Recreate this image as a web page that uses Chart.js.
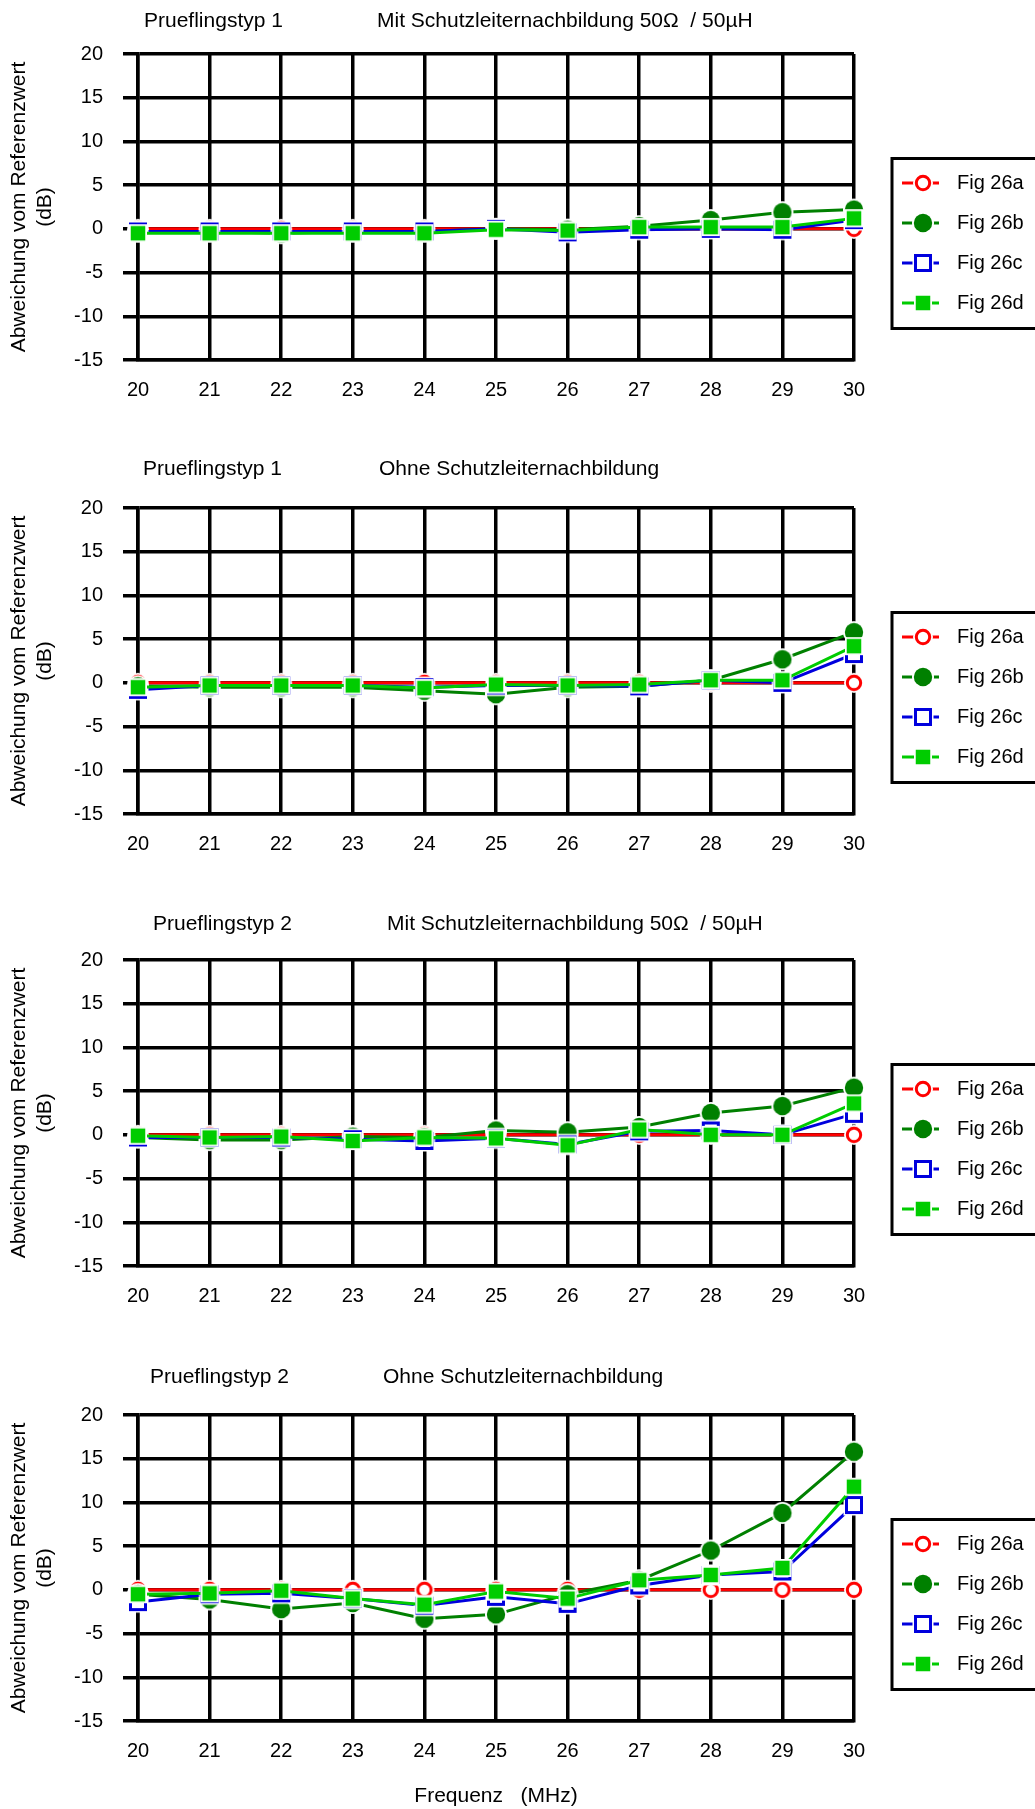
<!DOCTYPE html>
<html>
<head>
<meta charset="utf-8">
<script src="https://cdn.jsdelivr.net/npm/chart.js@4/dist/chart.umd.min.js"></script>
<style>
body { margin: 0; background: #fff; }
#page { position: relative; width: 1035px; height: 1809px; overflow: hidden; background: #fff; }
#page canvas { position: absolute; left: 0; }
</style>
</head>
<body>
<div id="page">
  <canvas id="c1" width="1035" height="454" style="top:0px"></canvas>
  <canvas id="c2" width="1035" height="454" style="top:454px"></canvas>
  <canvas id="c3" width="1035" height="454" style="top:906px"></canvas>
  <canvas id="c4" width="1035" height="448" style="top:1361px"></canvas>
</div>
<script>
// frequencies (MHz) and y ticks (dB)
var freq = ['20', '21', '22', '23', '24', '25', '26', '27', '28', '29', '30'];
var yTicks = [-15, -10, -5, 0, 5, 10, 15, 20];
var names = ['Fig 26a', 'Fig 26b', 'Fig 26c', 'Fig 26d'];

// Prueflingstyp 1, mit Schutzleiternachbildung
var p1a = [0, 0, 0, 0, 0, 0, 0, 0, 0, 0, 0];
var p1b = [-0.3, -0.3, -0.5, -0.3, -0.3, 0, -0.1, 0.3, 1.0, 1.9, 2.2];
var p1c = [-0.3, -0.3, -0.3, -0.3, -0.3, 0, -0.4, -0.1, 0, -0.1, 1.0];
var p1d = [-0.5, -0.5, -0.5, -0.5, -0.5, -0.1, -0.2, 0.2, 0.2, 0.2, 1.2];

// Prueflingstyp 1, ohne Schutzleiternachbildung
var p2a = [0, 0, 0, 0, 0, 0, 0, 0, 0, 0, 0];
var p2b = [-0.4, -0.5, -0.5, -0.5, -0.9, -1.3, -0.5, -0.4, 0.3, 2.7, 5.8];
var p2c = [-0.8, -0.3, -0.3, -0.3, -0.5, -0.3, -0.3, -0.4, 0.3, 0, 3.3];
var p2d = [-0.5, -0.3, -0.3, -0.3, -0.6, -0.2, -0.3, -0.2, 0.3, 0.3, 4.2];

// Prueflingstyp 2, mit Schutzleiternachbildung
var p3a = [0, 0, 0, 0, 0, 0, 0, 0, 0, 0, 0];
var p3b = [-0.3, -0.6, -0.6, -0.2, -0.3, 0.5, 0.3, 0.9, 2.5, 3.3, 5.4];
var p3c = [-0.3, -0.3, -0.3, -0.5, -0.7, -0.4, -1.1, 0.4, 0.5, 0, 2.4];
var p3d = [-0.1, -0.3, -0.2, -0.7, -0.3, -0.4, -1.2, 0.6, 0, 0, 3.6];

// Prueflingstyp 2, ohne Schutzleiternachbildung
var p4a = [0, 0, 0, 0, 0, 0, 0, 0, 0, 0, 0];
var p4b = [-0.5, -1.1, -2.2, -1.5, -3.3, -2.8, -0.5, 1.1, 4.5, 8.8, 15.8];
var p4c = [-1.4, -0.5, -0.4, -1.0, -1.8, -0.8, -1.6, 0.5, 1.7, 2.1, 9.7];
var p4d = [-0.5, -0.4, -0.1, -1.0, -1.7, -0.2, -1.0, 1.1, 1.7, 2.5, 11.8];

var colors = ['#ff0000', '#008000', '#0000dd', '#00cc00'];
var fontFamily = '"Liberation Sans", Arial, sans-serif';

Chart.defaults.font.family = fontFamily;
Chart.defaults.color = '#000';

// marker pictures with a white halo round them
var marker = function(kind) {
  var c = document.createElement('canvas');
  c.width = 26;
  c.height = 26;
  var g = c.getContext('2d');
  g.translate(13, 13);
  g.fillStyle = '#fff';
  if (kind === 0) {
    g.beginPath(); g.arc(0, 0, 10, 0, 2 * Math.PI); g.fill();
    g.beginPath(); g.arc(0, 0, 6.7, 0, 2 * Math.PI); g.fill();
    g.lineWidth = 3; g.strokeStyle = colors[0]; g.stroke();
  } else if (kind === 1) {
    g.beginPath(); g.arc(0, 0, 11, 0, 2 * Math.PI); g.fill();
    g.beginPath(); g.arc(0, 0, 9.2, 0, 2 * Math.PI);
    g.fillStyle = colors[1]; g.fill();
  } else if (kind === 2) {
    g.fillRect(-10.5, -10.5, 21, 21);
    g.lineWidth = 3; g.strokeStyle = colors[2];
    g.strokeRect(-7.5, -7.5, 15, 15);
  } else {
    g.fillRect(-9, -9, 18, 18);
    g.fillStyle = colors[3];
    g.fillRect(-7.25, -7.25, 14.5, 14.5);
  }
  return c;
};
var markers = [marker(0), marker(1), marker(2), marker(3)];

var decoPlugin = {
  id: 'deco',
  afterDraw: function(chart, args, opts) {
    var ctx = chart.ctx;
    var area = chart.chartArea;
    ctx.save();
    ctx.fillStyle = '#000';
    ctx.textBaseline = 'middle';
    ctx.textAlign = 'left';
    ctx.font = '21px ' + fontFamily;
    ctx.fillText(opts.left, opts.leftX, area.top + opts.dy);
    ctx.fillText(opts.right, opts.rightX, area.top + opts.dy);

    // legend box, cut by the right edge like in the picture
    var top = area.top + 104.5;
    ctx.lineWidth = 3;
    ctx.strokeStyle = '#000';
    ctx.strokeRect(892, top, 170, 170);
    ctx.font = '20px ' + fontFamily;
    var sets = chart.data.datasets;
    for (var i = 0; i < sets.length; i++) {
      var y = top + 24.5 + i * 40;
      ctx.beginPath();
      ctx.moveTo(902, y);
      ctx.lineTo(939, y);
      ctx.strokeStyle = sets[i].borderColor;
      ctx.lineWidth = 3;
      ctx.stroke();
      var m = sets[i].pointStyle;
      ctx.drawImage(m, 923 - m.width / 2, y - m.height / 2);
      ctx.fillStyle = '#000';
      ctx.fillText(sets[i].label, 957, y);
    }
    ctx.restore();
  }
};

var create = function(id, series, deco, xTitle) {
  var canvas = document.getElementById(id);
  var h = canvas.height;
  var datasets = [];
  for (var i = 0; i < series.length; i++) {
    datasets.push({
      label: names[i],
      data: series[i],
      borderColor: colors[i],
      backgroundColor: colors[i],
      borderWidth: 3,
      pointStyle: markers[i],
      pointRadius: 9,
      tension: 0,
      fill: false,
      clip: false,
      order: series.length - i
    });
  }
  return new Chart(canvas, {
    type: 'line',
    data: { labels: freq, datasets: datasets },
    plugins: [decoPlugin],
    options: {
      responsive: false,
      animation: false,
      devicePixelRatio: 1,
      events: [],
      layout: { padding: { left: 0, top: 54, right: 181, bottom: 0 } },
      plugins: {
        legend: { display: false },
        tooltip: { enabled: false },
        deco: deco
      },
      scales: {
        x: {
          type: 'category',
          offset: false,
          grid: { color: '#000', lineWidth: 3.5, drawTicks: false },
          border: { display: true, color: '#000', width: 3.5 },
          ticks: { font: { size: 20 }, padding: 18, maxRotation: 0, autoSkip: false },
          title: {
            display: !!xTitle,
            text: xTitle || '',
            font: { size: 21 },
            padding: { top: 0, bottom: 0 }
          },
          afterFit: function(s) { s.height = h - 360; }
        },
        y: {
          type: 'linear',
          min: yTicks[0],
          max: yTicks[yTicks.length - 1],
          grid: { color: '#000', lineWidth: 3.5, tickLength: 15 },
          border: { display: true, color: '#000', width: 3.5 },
          ticks: { stepSize: 5, font: { size: 20 }, padding: 20 },
          title: {
            display: true,
            text: ['Abweichung vom Referenzwert', '(dB)'],
            font: { size: 21 },
            padding: { top: 7, bottom: 0 }
          },
          afterFit: function(s) { s.width = 138; }
        }
      }
    }
  });
};

create('c1', [p1a, p1b, p1c, p1d],
  { left: 'Prueflingstyp 1', leftX: 144, right: 'Mit Schutzleiternachbildung 50\u03A9  / 50\u00B5H', rightX: 377, dy: -33 });
create('c2', [p2a, p2b, p2c, p2d],
  { left: 'Prueflingstyp 1', leftX: 143, right: 'Ohne Schutzleiternachbildung', rightX: 379, dy: -39 });
create('c3', [p3a, p3b, p3c, p3d],
  { left: 'Prueflingstyp 2', leftX: 153, right: 'Mit Schutzleiternachbildung 50\u03A9  / 50\u00B5H', rightX: 387, dy: -36 });
create('c4', [p4a, p4b, p4c, p4d],
  { left: 'Prueflingstyp 2', leftX: 150, right: 'Ohne Schutzleiternachbildung', rightX: 383, dy: -38 },
  'Frequenz   (MHz)');
</script>
</body>
</html>
